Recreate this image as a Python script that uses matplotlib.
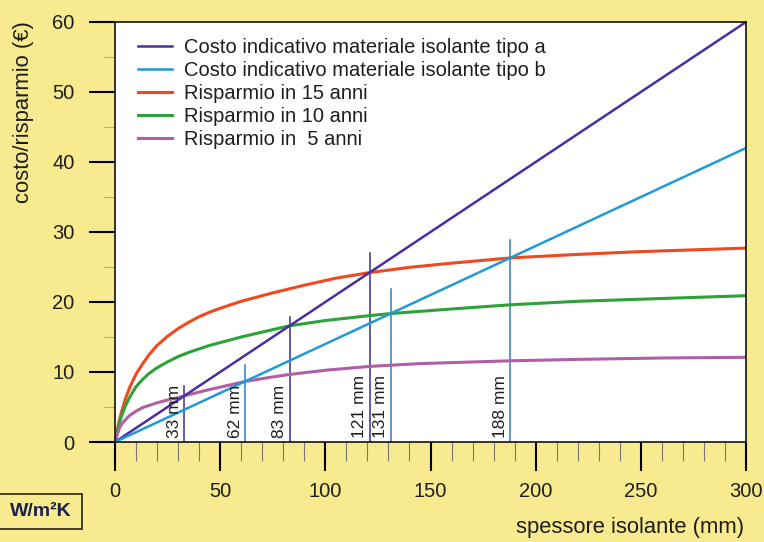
import numpy as np
import matplotlib
matplotlib.use('Agg')
import matplotlib.pyplot as plt
from matplotlib.patches import Rectangle
from matplotlib.ticker import MultipleLocator

plt.rcParams['font.family'] = ['Liberation Sans', 'DejaVu Sans']

# Straight cost lines (thickness in mm -> euro)
cost_x = [0, 300]
cost_a = [0, 60]
cost_b = [0, 42]

# Savings curves
s15_x = [0, 1, 2, 3, 5, 7, 10, 13, 16, 20, 25, 30, 35, 40, 45, 50, 60, 75, 90, 105,
         121, 140, 160, 188, 220, 250, 300]
s15_y = [0, 1.6, 3.0, 4.2, 6.2, 7.8, 9.7, 11.1, 12.4, 13.8, 15.1, 16.2, 17.1, 17.9, 18.55, 19.1, 20.1, 21.3, 22.4, 23.4,
         24.2, 24.95, 25.55, 26.3, 26.8, 27.2, 27.7]

s10_x = [0, 1, 2, 3, 5, 7, 10, 13, 16, 20, 25, 30, 35, 40, 45, 50, 60, 75, 83, 100,
         121, 131, 160, 188, 220, 260, 300]
s10_y = [0, 1.4, 2.6, 3.6, 5.2, 6.4, 7.9, 8.9, 9.75, 10.6, 11.45, 12.2, 12.8, 13.3, 13.8, 14.2, 15.0, 16.05, 16.6, 17.35,
         18.05, 18.35, 19.0, 19.6, 20.1, 20.5, 20.9]

s5_x = [0, 1, 2, 3, 5, 7, 10, 13, 16, 20, 25, 30, 33, 45, 62, 75, 83, 100, 121, 145, 188, 220, 260, 300]
s5_y = [0, 1.0, 1.9, 2.5, 3.2, 3.8, 4.4, 4.9, 5.2, 5.6, 6.0, 6.35, 6.6, 7.5, 8.65, 9.3, 9.65, 10.25, 10.8, 11.2,
        11.6, 11.8, 12.0, 12.1]

labels = ['Costo indicativo materiale isolante tipo a',
          'Costo indicativo materiale isolante tipo b',
          'Risparmio in 15 anni',
          'Risparmio in 10 anni',
          'Risparmio in  5 anni']

# break-even markers
mark_x = [33, 62, 83, 121, 131, 188]
mark_top = [8.0, 11.0, 17.9, 27.0, 21.8, 28.9]
mark_kind = ['a', 'b', 'a', 'a', 'b', 'b']

col_a = '#4a2f9c'
col_b = '#1f9ad6'
col_15 = '#f0481f'
col_10 = '#2ea23a'
col_5 = '#b05fa6'
bg = '#f8ea8e'
txt = '#1e1e1e'

fig = plt.figure(figsize=(7.64, 5.42), dpi=100, facecolor=bg)
ax = fig.add_axes([115/764, 1-442/542, 631/764, 420/542])
ax.set_facecolor('white')

l15, = ax.plot(s15_x, s15_y, color=col_15, lw=2.2, label=labels[2])
l10, = ax.plot(s10_x, s10_y, color=col_10, lw=2.2, label=labels[3])
l5, = ax.plot(s5_x, s5_y, color=col_5, lw=2.2, label=labels[4])
la, = ax.plot(cost_x, cost_a, color=col_a, lw=1.8, label=labels[0])
lb, = ax.plot(cost_x, cost_b, color=col_b, lw=1.8, label=labels[1])

for x, top, k in zip(mark_x, mark_top, mark_kind):
    c = '#3b2f8c' if k == 'a' else '#2f7dc0'
    ax.plot([x, x], [0, top], color=c, lw=1.1, zorder=1)
    ax.annotate('%d mm' % x, (x, 0), xytext=(-2, 3), textcoords='offset points',
                rotation=90, ha='right', va='bottom', fontsize=12.5, color=txt)

ax.set_xlim(0, 300)
ax.set_ylim(0, 60)
ax.xaxis.set_major_locator(MultipleLocator(50))
ax.xaxis.set_minor_locator(MultipleLocator(10))
ax.yaxis.set_major_locator(MultipleLocator(10))
ax.yaxis.set_minor_locator(MultipleLocator(5))
ax.tick_params(axis='x', which='major', direction='out', length=21, width=1.5,
               pad=8, labelsize=14.5, labelcolor=txt)
ax.tick_params(axis='x', which='minor', direction='out', length=14, width=0.8, color='#777777')
ax.tick_params(axis='y', which='major', direction='out', length=19, width=1.5,
               pad=10, labelsize=14.5, labelcolor=txt)
ax.tick_params(axis='y', which='minor', direction='out', length=9, width=0.8, color='#aaaaaa')
for s in ax.spines.values():
    s.set_linewidth(1.2)
    s.set_color('#111111')

ax.legend(handles=[la, lb, l15, l10, l5], loc='upper left', bbox_to_anchor=(0.036, 0.962),
          frameon=False, fontsize=14.5, handlelength=1.7, handletextpad=0.6,
          labelspacing=0.2, borderpad=0, borderaxespad=0, labelcolor=txt)

fig.text(24/764, 1-112/542, 'costo/risparmio (€)', rotation=90, ha='center', va='center',
         fontsize=15.8, color=txt)
fig.text(744/764, 1-527/542, 'spessore isolante (mm)', ha='right', va='center',
         fontsize=15.8, color=txt)

fig.patches.append(Rectangle((-2/764, 1-529/542), 84/764, 35/542, transform=fig.transFigure,
                             facecolor=bg, edgecolor='#222222', lw=1.2))
fig.text(41/764, 1-512/542, 'W/m²K', ha='center', va='center', fontsize=14,
         fontweight='bold', color='#1c2050')

fig.savefig('out.png', dpi=100, facecolor=bg)
